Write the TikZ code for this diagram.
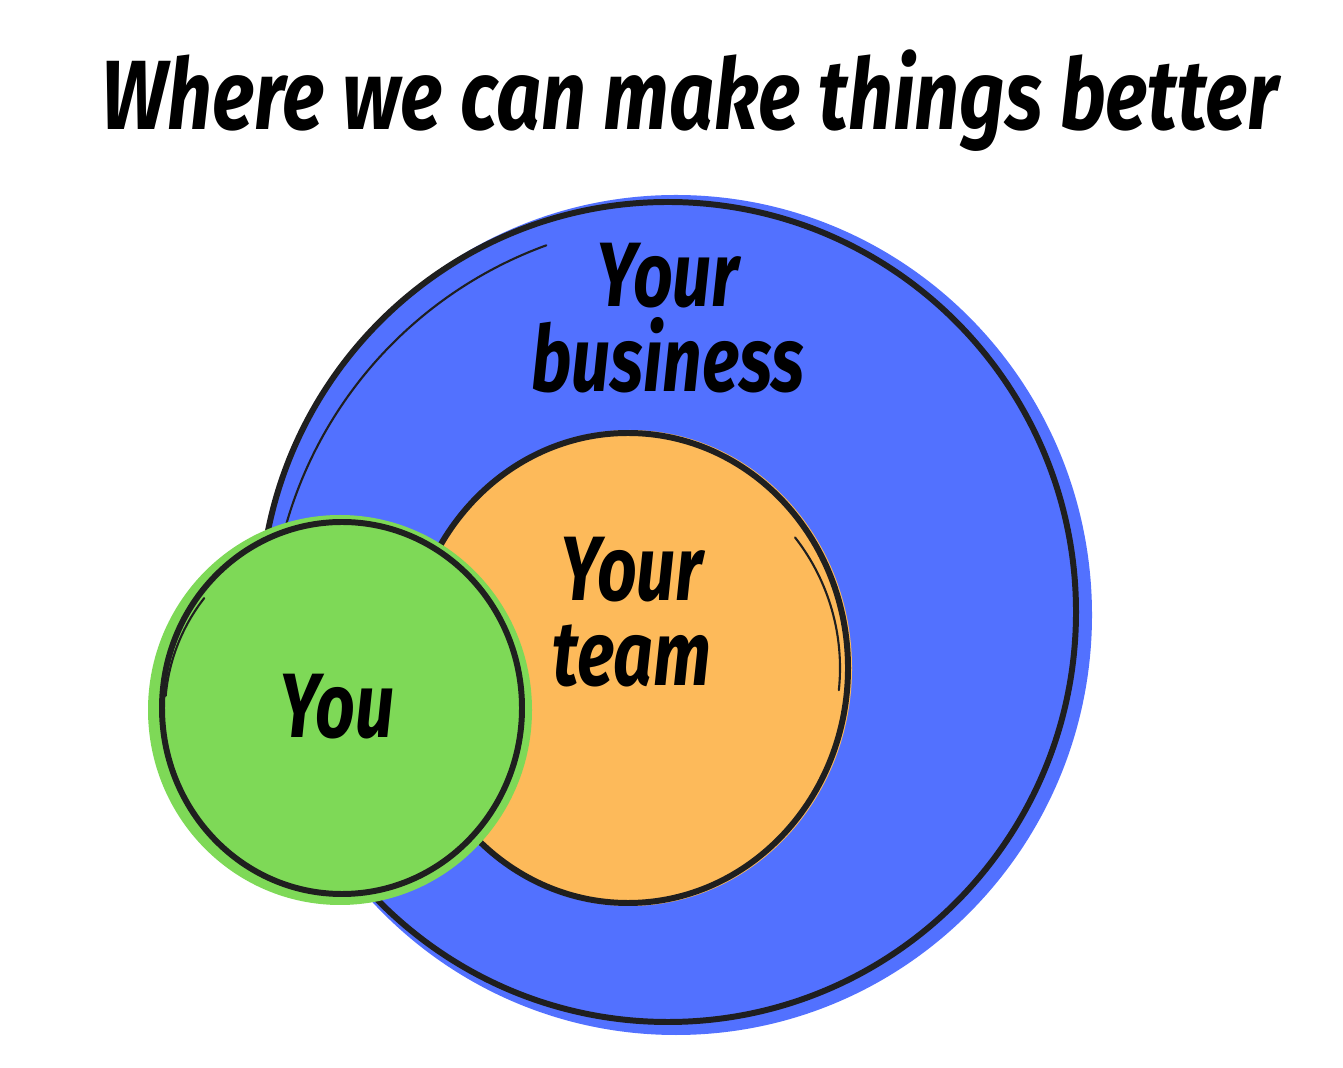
\documentclass[tikz,border=0pt]{standalone}
\usepackage{fontspec}
\setmainfont{Fira Sans}
\usepackage{xcolor}
\definecolor{Ink}{HTML}{1F1F1F}
\definecolor{BizBlue}{HTML}{5271FF}
\definecolor{TeamOrange}{HTML}{FDBA5A}
\definecolor{YouGreen}{HTML}{7ED957}

\begin{document}
\begin{tikzpicture}[
      x=0.01cm, y=-0.01cm,
      every node/.style={text=black, inner sep=0pt},
      heading/.style={font=\fontsize{28}{28}\selectfont\bfseries\itshape, xscale=0.80},
      tag/.style={font=\fontsize{26}{24}\selectfont\bfseries\itshape, align=center, xscale=0.76},
      rim/.style={draw=Ink, line width=1.7pt},
      sketch/.style={draw=Ink, line width=0.6pt, line cap=round}
    ]
    \useasboundingbox[fill=white] (0,0) rectangle (1343,1068);

    % your business
    \fill[BizBlue] (676,615) ellipse [x radius=416, y radius=420];
    \fill[BizBlue] (672,612) ellipse [x radius=414, y radius=414];
    \draw[rim] (668,612) ellipse [x radius=408, y radius=410];
    \draw[sketch] (690,640) ++(192:420) arc (192:250:420);

    % your team
    \fill[TeamOrange] (630,668) ellipse [x radius=222, y radius=238];
    \draw[rim] (628,668) ellipse [x radius=220, y radius=235];
    \draw[sketch] (628,668) ++(-38:212) arc (-38:6:212);

    % you
    \fill[YouGreen] (340,710) ellipse [x radius=192, y radius=195];
    \draw[rim] (342,708) ellipse [x radius=180, y radius=186];
    \draw[sketch] (350,712) ++(218:185) arc (218:185:185);

    \node[heading, anchor=base] (title) at (690,130) {Where we can make things better};
    \node[tag] (business) at (668,318) {Your\\business};
    \node[tag] (team) at (632,612) {Your\\team};
    \node[tag, anchor=base] (you) at (337,738) {You};
  \end{tikzpicture}
\end{document}
